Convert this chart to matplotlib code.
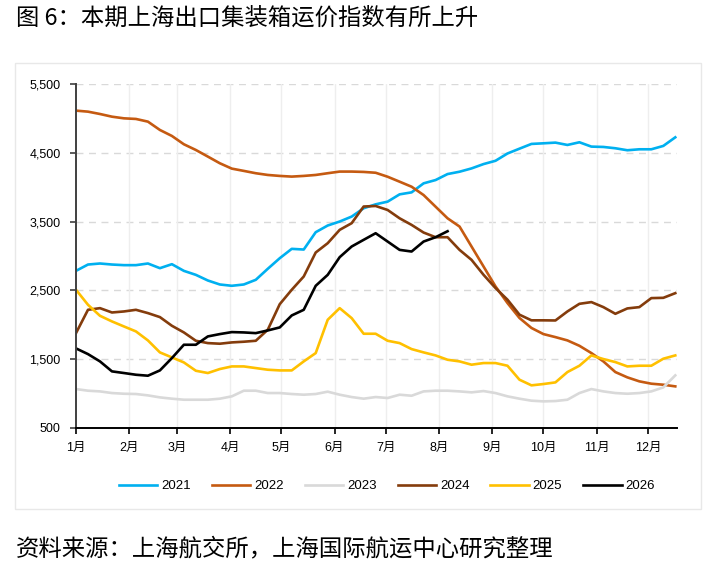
import numpy as np
import matplotlib
matplotlib.use('Agg')
import matplotlib.pyplot as plt
from matplotlib.patches import Rectangle

# weekly index values, week 0 = first week of January
y2021 = [2784, 2876, 2891, 2876, 2867, 2867, 2891, 2823, 2881, 2784, 2726, 2644, 2586,
         2567, 2586, 2654, 2814, 2968, 3104, 3094, 3346, 3443, 3501, 3573, 3694, 3751,
         3790, 3896, 3925, 4056, 4104, 4191, 4225, 4273, 4336, 4384, 4490, 4560, 4629,
         4638, 4648, 4614, 4653, 4590, 4585, 4566, 4537, 4551, 4551, 4600, 4725]
y2022 = [5113, 5098, 5064, 5025, 5001, 4992, 4953, 4832, 4745, 4624, 4541, 4445, 4348,
         4270, 4237, 4203, 4178, 4164, 4154, 4164, 4178, 4203, 4227, 4227, 4222, 4210,
         4152, 4080, 4007, 3886, 3717, 3548, 3428, 3138, 2848, 2558, 2316, 2099, 1954,
         1865, 1821, 1773, 1695, 1589, 1468, 1313, 1236, 1178, 1144, 1129, 1105]
y2023 = [1066, 1042, 1032, 1008, 998, 994, 974, 945, 926, 911, 911, 911, 926,
         960, 1042, 1042, 1008, 1008, 994, 984, 994, 1028, 984, 950, 926, 950,
         936, 984, 969, 1032, 1042, 1042, 1032, 1018, 1037, 1008, 960, 926, 897,
         887, 892, 911, 1008, 1066, 1032, 1008, 998, 1008, 1032, 1090, 1265]
y2024 = [1879, 2218, 2242, 2179, 2194, 2218, 2170, 2112, 1986, 1889, 1768, 1734, 1725,
         1744, 1754, 1768, 1928, 2300, 2509, 2702, 3051, 3186, 3380, 3477, 3719, 3727,
         3669, 3548, 3452, 3341, 3273, 3273, 3089, 2944, 2727, 2534, 2365, 2147, 2065,
         2065, 2063, 2194, 2305, 2330, 2257, 2160, 2238, 2257, 2388, 2392, 2460]
y2025 = [2509, 2291, 2131, 2049, 1976, 1904, 1773, 1599, 1526, 1453, 1332, 1299, 1357,
         1395, 1395, 1371, 1347, 1337, 1337, 1468, 1589, 2073, 2242, 2097, 1870, 1870,
         1768, 1734, 1647, 1599, 1555, 1492, 1468, 1420, 1444, 1444, 1405, 1202, 1120,
         1139, 1163, 1313, 1405, 1555, 1502, 1458, 1395, 1405, 1405, 1507, 1555]
y2026 = [1657, 1574, 1468, 1323, 1299, 1274, 1260, 1337, 1516, 1710, 1710, 1831, 1865,
         1894, 1889, 1879, 1918, 1962, 2136, 2218, 2567, 2726, 2983, 3138, 3235, 3331,
         3210, 3089, 3065, 3210, 3273, 3360]

years = ['2021', '2022', '2023', '2024', '2025', '2026']
colors = ['#00B0F0', '#C55A11', '#D9D9D9', '#843C0C', '#FFC000', '#000000']
series = [y2021, y2022, y2023, y2024, y2025, y2026]

month_labels = ['1月', '2月', '3月', '4月', '5月', '6月', '7月', '8月', '9月', '10月', '11月', '12月']
month_days = [0, 31, 59, 90, 120, 151, 181, 212, 243, 273, 304, 334]
y_ticks = [500, 1500, 2500, 3500, 4500, 5500]

fam = ['Liberation Sans', 'Noto Sans CJK SC']
plt.rcParams['font.family'] = fam

fig = plt.figure(figsize=(7.22, 5.68), dpi=100)
ax = fig.add_axes([76 / 722, 1 - 428 / 568, (677 - 76) / 722, (428 - 84) / 568])

for name, c, ys in zip(years, colors, series):
    days = np.arange(len(ys)) * 7
    ax.plot(days, ys, color=c, lw=1.9, label=name, solid_joinstyle='round')

ax.set_xlim(0, 351)
ax.set_ylim(500, 5500)
ax.set_yticks(y_ticks)
ax.set_yticklabels([f'{v:,}' for v in y_ticks])
ax.set_xticks(month_days)
ax.set_xticklabels(month_labels)

for v in y_ticks[1:]:
    ax.axhline(v, color='#d9d9d9', lw=1.0, ls=(0, (5, 4)), zorder=0)
for d in month_days[1:]:
    ax.axvline(d, color='#eeeeee', lw=1.0, zorder=0)

for s in ['top', 'right']:
    ax.spines[s].set_visible(False)
ax.spines['left'].set_color('#404040')
ax.spines['left'].set_linewidth(1.4)
ax.spines['bottom'].set_color('#000000')
ax.spines['bottom'].set_linewidth(1.4)
ax.tick_params(axis='y', length=4, width=1.2, color='#404040', pad=7, labelsize=9)
ax.tick_params(axis='x', length=4, width=1.2, pad=6, labelsize=9)

fig.legend(loc='center', bbox_to_anchor=(387 / 722, 1 - 486 / 568), ncol=6, frameon=False,
           fontsize=9.5, handlelength=2.9, handletextpad=0.3, columnspacing=1.6)

fig.patches.append(Rectangle((15 / 722, 1 - 509 / 568), (701 - 15) / 722, (509 - 63) / 568,
                             transform=fig.transFigure, fill=False, edgecolor='#e8e8e8', lw=1.0))

fig.text(16 / 722, 1 - 18 / 568, '图 6：本期上海出口集装箱运价指数有所上升', fontsize=16.8,
         family=['Noto Sans CJK SC', 'DejaVu Sans'], va='center', ha='left')
fig.text(16 / 722, 1 - 549 / 568, '资料来源：上海航交所，上海国际航运中心研究整理', fontsize=16.8,
         family=['Noto Sans CJK SC', 'DejaVu Sans'], va='center', ha='left')

fig.savefig('out.png', dpi=100)
